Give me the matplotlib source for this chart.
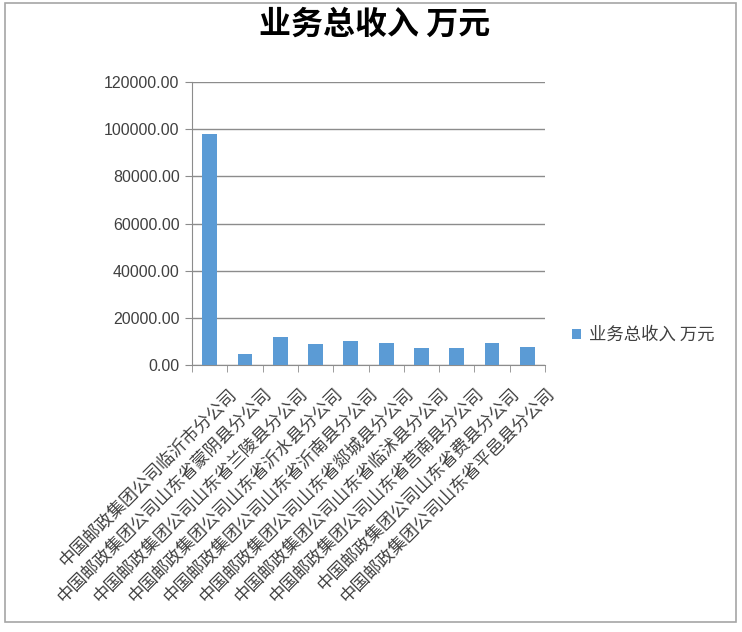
import matplotlib
matplotlib.use("Agg")
import matplotlib.pyplot as plt
import matplotlib.transforms as mtransforms
from matplotlib.patches import Rectangle
import numpy as np

plt.rcParams['font.family'] = ['Noto Sans CJK SC', 'DejaVu Sans']

categories = [
    "中国邮政集团公司临沂市分公司",
    "中国邮政集团公司山东省蒙阴县分公司",
    "中国邮政集团公司山东省兰陵县分公司",
    "中国邮政集团公司山东省沂水县分公司",
    "中国邮政集团公司山东省沂南县分公司",
    "中国邮政集团公司山东省郯城县分公司",
    "中国邮政集团公司山东省临沭县分公司",
    "中国邮政集团公司山东省莒南县分公司",
    "中国邮政集团公司山东省费县分公司",
    "中国邮政集团公司山东省平邑县分公司",
]
values = [98000, 4550, 11900, 9100, 10050, 9500, 7250, 7250, 9500, 7800]
series_name = "业务总收入 万元"
title = "业务总收入 万元"
yticks = [0, 20000, 40000, 60000, 80000, 100000, 120000]

W, H = 742, 632
fig = plt.figure(figsize=(W / 100, H / 100), dpi=100)

# outer chart border
fig.patches.append(Rectangle((5 / W, 10 / H), 731 / W, 619 / H, transform=fig.transFigure,
                             fill=False, edgecolor='#A6A6A6', linewidth=1.2))

left, right, top, bottom = 192, 545, 82, 365
ax = fig.add_axes([left / W, (H - bottom) / H, (right - left) / W, (bottom - top) / H])

x = np.arange(len(categories))
ax.bar(x, values, width=0.42, color='#5B9BD5', label=series_name, zorder=3)

ax.set_xlim(-0.5, len(categories) - 0.5)
ax.set_ylim(0, 120000)
ax.set_yticks(yticks)
ax.set_yticklabels([f"{v:.2f}" for v in yticks], fontfamily='Liberation Sans', fontsize=11.5,
                   color='#404040')
ax.yaxis.grid(True, color='#8C8C8C', linewidth=1.0, zorder=0)
ax.set_axisbelow(True)

for s in ['top', 'right']:
    ax.spines[s].set_visible(False)
ax.spines['left'].set_color('#8C8C8C')
ax.spines['bottom'].set_color('#8C8C8C')

ax.tick_params(axis='y', length=5, color='#8C8C8C', pad=4)
ax.set_xticks(x)
ax.set_xticks(np.arange(len(categories) + 1) - 0.5, minor=True)
ax.tick_params(axis='x', which='major', length=0)
ax.tick_params(axis='x', which='minor', length=5, color='#8C8C8C')

ax.set_xticklabels(categories, rotation=45, ha='right', va='center', rotation_mode='anchor',
                   fontsize=12.5, color='#404040')
offset = mtransforms.ScaledTranslation(0.24, -0.21, fig.dpi_scale_trans)
for lab in ax.get_xticklabels():
    lab.set_transform(lab.get_transform() + offset)

fig.text(375 / W, 1 - 25 / H, title, ha='center', va='center', fontsize=23,
         fontweight='bold', color='#000000')

leg = ax.legend(loc='center left', bbox_to_anchor=(556 / W, 1 - 335 / H),
                bbox_transform=fig.transFigure, frameon=False, fontsize=12.5,
                handlelength=0.55, handleheight=0.55, handletextpad=0.45)
for t in leg.get_texts():
    t.set_color('#404040')

fig.savefig("out.png", dpi=100)
